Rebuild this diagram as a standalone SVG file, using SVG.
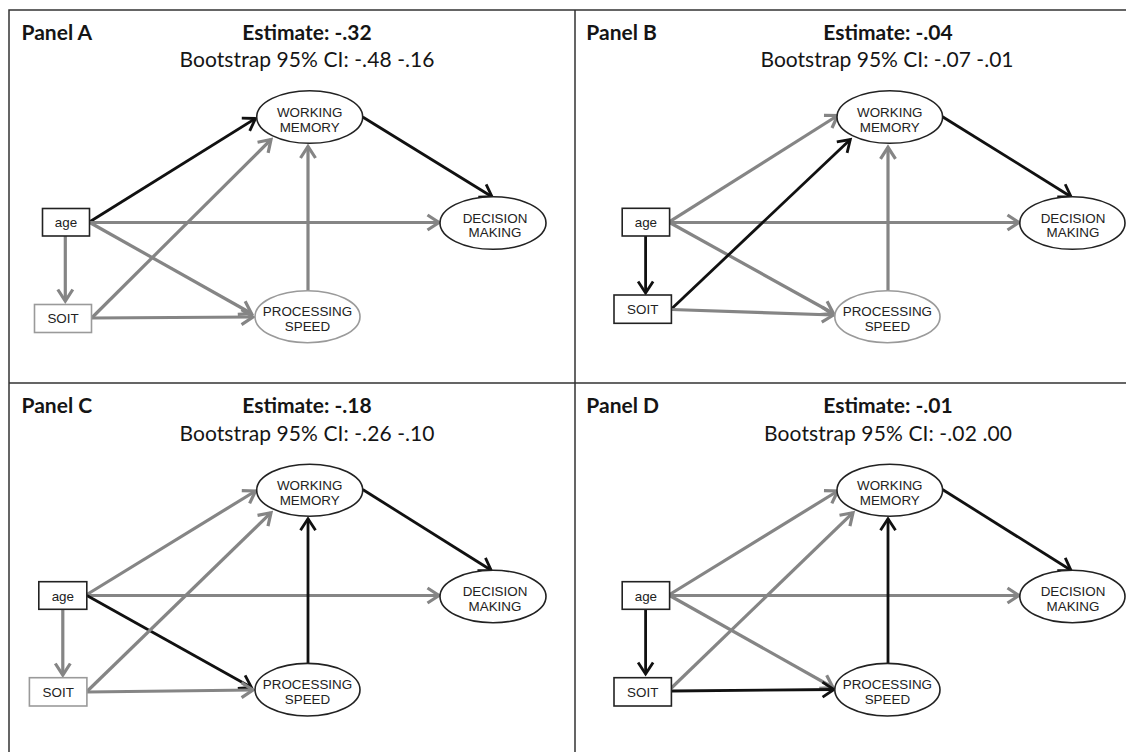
<svg xmlns="http://www.w3.org/2000/svg" width="1126" height="752" viewBox="0 0 1126 752">
<style>
.frame{stroke:#333;stroke-width:1.5;fill:none}
.ttl{font-family:Lato,"Open Sans","Liberation Sans",sans-serif;font-weight:bold;font-size:21px;fill:#151515}
.ci{font-family:Lato,"Open Sans","Liberation Sans",sans-serif;font-size:21px;fill:#151515;text-anchor:middle}
.mid{text-anchor:middle}
.bk{stroke:#111;stroke-width:2.8;fill:none;marker-end:url(#ab)}
.gr{stroke:#858585;stroke-width:3.2;fill:none;marker-end:url(#ag)}
.nk{fill:#fff;stroke:#222;stroke-width:1.6}
.ng{fill:#fff;stroke:#9a9a9a;stroke-width:1.6}
.lbl{font-family:"Liberation Sans",Arial,sans-serif;font-size:13.4px;fill:#222;text-anchor:middle}
</style>
<defs>
<marker id="ab" markerUnits="userSpaceOnUse" markerWidth="24" markerHeight="24" refX="12" refY="12" orient="auto" overflow="visible">
<path d="M0.5,4.5 L12,12 L0.5,19.5" fill="none" stroke="#111" stroke-width="2.8"/>
</marker>
<marker id="ag" markerUnits="userSpaceOnUse" markerWidth="24" markerHeight="24" refX="12" refY="12" orient="auto" overflow="visible">
<path d="M0.5,4.5 L12,12 L0.5,19.5" fill="none" stroke="#858585" stroke-width="3.2"/>
</marker>
</defs>
<rect x="0" y="0" width="1126" height="752" fill="#fff"/>
<path class="frame" d="M9,752 V10 H1126 M575,10 V752 M9,383 H1126"/>

<g id="titles">
<text class="ttl" x="21.5" y="40">Panel A</text>
<text class="ttl mid" x="307" y="40">Estimate: -.32</text>
<text class="ci" x="307" y="66.7" textLength="255">Bootstrap 95% CI: -.48 -.16</text>
<text class="ttl" x="586.3" y="40">Panel B</text>
<text class="ttl mid" x="888" y="40">Estimate: -.04</text>
<text class="ci" x="887" y="66.7" textLength="253">Bootstrap 95% CI: -.07 -.01</text>
<text class="ttl" x="21.5" y="413.3">Panel C</text>
<text class="ttl mid" x="307" y="413.3">Estimate: -.18</text>
<text class="ci" x="307" y="441" textLength="255">Bootstrap 95% CI: -.26 -.10</text>
<text class="ttl" x="586.3" y="413.3">Panel D</text>
<text class="ttl mid" x="888" y="413.3">Estimate: -.01</text>
<text class="ci" x="888" y="441" textLength="248">Bootstrap 95% CI: -.02 .00</text>
</g>

<g id="connectors">
<path class="bk" d="M89.8,221.7 L255.5,118.5"/>
<path class="gr" d="M89.8,222.5 L439,222.5"/>
<path class="gr" d="M89.8,222.5 L251.5,313.5"/>
<path class="gr" d="M65.3,236 L65.3,301"/>
<path class="gr" d="M91.6,318 L271,139.5"/>
<path class="gr" d="M91.6,318 L253,317"/>
<path class="gr" d="M308,290.7 L308,146.5"/>
<path class="bk" d="M362.7,117 L492,196.7"/>

<path class="gr" d="M669.6,221.7 L837.7,115.5"/>
<path class="gr" d="M669.6,222.5 L1019,222.5"/>
<path class="gr" d="M669.6,222.5 L833.5,313.5"/>
<path class="bk" d="M645.6,236 L645.6,293"/>
<path class="bk" d="M671.4,309 L850.3,139.5"/>
<path class="gr" d="M671.4,309.5 L833.5,315"/>
<path class="gr" d="M888,290.7 L888,147.3"/>
<path class="bk" d="M942.5,116.7 L1071,196.7"/>

<path class="gr" d="M86.9,594.5 L255.5,491"/>
<path class="gr" d="M86.9,595.5 L439,595.5"/>
<path class="bk" d="M86.9,595.5 L251.5,687.5"/>
<path class="gr" d="M62.8,609.3 L62.8,675"/>
<path class="gr" d="M86.9,691.5 L271,512.7"/>
<path class="gr" d="M86.9,692 L253,690"/>
<path class="bk" d="M308,663.3 L308,518.7"/>
<path class="bk" d="M362.7,489.5 L491.2,570.3"/>

<path class="gr" d="M669.6,594.5 L837.7,491"/>
<path class="gr" d="M669.6,595.5 L1019,595.5"/>
<path class="gr" d="M669.6,595.5 L833,687.5"/>
<path class="bk" d="M645.6,609.3 L645.6,674"/>
<path class="gr" d="M671.4,688 L853,512.7"/>
<path class="bk" d="M671.4,691 L834,689.5"/>
<path class="bk" d="M888,663.3 L888,518.7"/>
<path class="bk" d="M942.5,489.5 L1071,570.3"/>
</g>

<g id="A-wm"><ellipse class="nk" cx="309.7" cy="117" rx="53" ry="26.3"/><text class="lbl" x="309.7" y="116.7">WORKING</text><text class="lbl" x="309.7" y="131.7">MEMORY</text></g>
<g id="A-dm"><ellipse class="nk" cx="493" cy="223" rx="53" ry="26.3"/><text class="lbl" x="495" y="222.7">DECISION</text><text class="lbl" x="495" y="237.3">MAKING</text></g>
<g id="A-ps"><ellipse class="ng" cx="307.5" cy="316.7" rx="52.5" ry="26"/><text class="lbl" x="307.5" y="316.2">PROCESSING</text><text class="lbl" x="307.5" y="331">SPEED</text></g>
<g id="A-age"><rect class="nk" x="42.5" y="208.5" width="47" height="27.5"/><text class="lbl" x="66" y="227.2">age</text></g>
<g id="A-soit"><rect class="ng" x="34.5" y="304.5" width="57" height="28"/><text class="lbl" x="63" y="323.3">SOIT</text></g>

<g id="B-wm"><ellipse class="nk" cx="889.8" cy="117" rx="52.8" ry="26.3"/><text class="lbl" x="889.8" y="116.7">WORKING</text><text class="lbl" x="889.8" y="131.7">MEMORY</text></g>
<g id="B-dm"><ellipse class="nk" cx="1072.4" cy="223" rx="52.6" ry="26.3"/><text class="lbl" x="1073" y="222.7">DECISION</text><text class="lbl" x="1073" y="237.3">MAKING</text></g>
<g id="B-ps"><ellipse class="ng" cx="887.4" cy="316.7" rx="52.6" ry="26"/><text class="lbl" x="887.4" y="316.2">PROCESSING</text><text class="lbl" x="887.4" y="331">SPEED</text></g>
<g id="B-age"><rect class="nk" x="622.2" y="208.3" width="47.4" height="27.7"/><text class="lbl" x="645.9" y="227.2">age</text></g>
<g id="B-soit"><rect class="nk" x="614" y="295" width="57.4" height="28.3"/><text class="lbl" x="642.7" y="314">SOIT</text></g>

<g id="C-wm"><ellipse class="nk" cx="309.7" cy="490.2" rx="53" ry="26"/><text class="lbl" x="309.7" y="489.8">WORKING</text><text class="lbl" x="309.7" y="504.8">MEMORY</text></g>
<g id="C-dm"><ellipse class="nk" cx="493" cy="596.5" rx="53" ry="26.2"/><text class="lbl" x="495" y="596.2">DECISION</text><text class="lbl" x="495" y="610.8">MAKING</text></g>
<g id="C-ps"><ellipse class="nk" cx="307.5" cy="689.7" rx="52.5" ry="26.3"/><text class="lbl" x="307.5" y="689.2">PROCESSING</text><text class="lbl" x="307.5" y="704">SPEED</text></g>
<g id="C-age"><rect class="nk" x="38.8" y="581.7" width="48" height="27.6"/><text class="lbl" x="62.8" y="600.5">age</text></g>
<g id="C-soit"><rect class="ng" x="29.4" y="677.7" width="57.5" height="28.3"/><text class="lbl" x="58.2" y="696.8">SOIT</text></g>

<g id="D-wm"><ellipse class="nk" cx="889.8" cy="490.2" rx="52.8" ry="26"/><text class="lbl" x="889.8" y="489.8">WORKING</text><text class="lbl" x="889.8" y="504.8">MEMORY</text></g>
<g id="D-dm"><ellipse class="nk" cx="1072.4" cy="596.5" rx="52.6" ry="26.2"/><text class="lbl" x="1073" y="596.2">DECISION</text><text class="lbl" x="1073" y="610.8">MAKING</text></g>
<g id="D-ps"><ellipse class="nk" cx="887.4" cy="689.7" rx="52.6" ry="26.3"/><text class="lbl" x="887.4" y="689.2">PROCESSING</text><text class="lbl" x="887.4" y="704">SPEED</text></g>
<g id="D-age"><rect class="nk" x="622.2" y="581.7" width="47.4" height="27.6"/><text class="lbl" x="645.9" y="600.5">age</text></g>
<g id="D-soit"><rect class="nk" x="614" y="677.7" width="57.4" height="28.3"/><text class="lbl" x="642.7" y="696.8">SOIT</text></g>
</svg>
